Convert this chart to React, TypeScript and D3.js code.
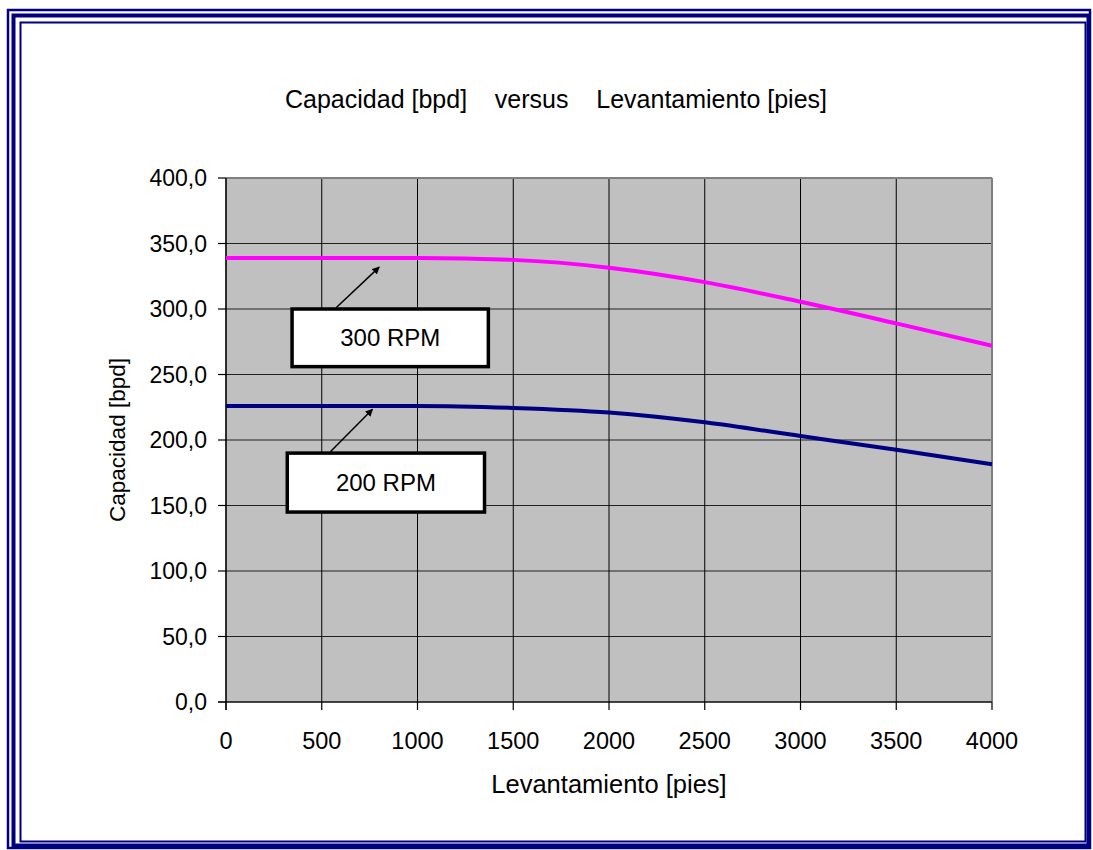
import React from "react";
import * as d3 from "d3";

// levantamiento [pies]
const levantamiento = [0, 500, 1000, 1500, 2000, 2500, 3000, 3500, 4000];
// capacidad [bpd]
const rpm300 = [339, 339, 339, 337.5, 331.5, 320.5, 305.5, 289, 272];
const rpm200 = [226, 226, 226, 224.5, 221, 213.5, 203, 192.5, 181.5];

const xTicks = [0, 500, 1000, 1500, 2000, 2500, 3000, 3500, 4000];
const yTicks = [0, 50, 100, 150, 200, 250, 300, 350, 400];

const W = 1093;
const H = 850;
const margin = { top: 178, right: 101, bottom: 148, left: 226 };
const FONT = "'Liberation Sans', Arial, sans-serif";

const fmt = (v: number) => v.toFixed(1).replace(".", ",");

export default function App() {
  const x = d3.scaleLinear().domain([0, 4000]).range([margin.left, W - margin.right]);
  const y = d3.scaleLinear().domain([0, 400]).range([H - margin.bottom, margin.top]);

  const line = d3
    .line<number>()
    .x((d, i) => x(levantamiento[i]))
    .y((d) => y(d))
    .curve(d3.curveMonotoneX);

  const [x0, x1] = x.range();
  const [y0, y1] = y.range();

  // callouts: box in data space, arrow tip on the curve
  const labels = [
    { text: "300 RPM", box: [345, 1370, 300, 256], tip: [800, 332], tail: [575, 301] },
    { text: "200 RPM", box: [320, 1350, 190, 145], tip: [765, 223.5], tail: [545, 191] },
  ];

  return (
    <svg width={W} height={H} style={{ position: "absolute", left: 0, top: 0, fontFamily: FONT }}>
      <defs>
        <marker id="arrow" viewBox="0 0 10 10" refX="9" refY="5" markerWidth="5" markerHeight="5" orient="auto">
          <path d="M0,0 L10,5 L0,10 z" fill="#000" />
        </marker>
      </defs>
      <rect width={W} height={H} fill="#fff" />

      {/* page border */}
      <rect x={8} y={10} width={1082} height={838} fill="none" stroke="#000080" strokeWidth={2.5} />
      <rect x={13.5} y={15.5} width={1075} height={830} fill="none" stroke="#000080" strokeWidth={4} />
      <rect x={20.5} y={22.5} width={1065} height={819} fill="none" stroke="#000080" strokeWidth={2} />

      <text x={556} y={108} textAnchor="middle" fontSize={25} fill="#000" style={{ whiteSpace: "pre" }}>
        {"Capacidad [bpd]    versus    Levantamiento [pies]"}
      </text>

      {/* plot area */}
      <rect x={x0} y={y1} width={x1 - x0} height={y0 - y1} fill="#c0c0c0" />

      {yTicks.map((t) => (
        <line key={"gy" + t} x1={x0} x2={x1} y1={y(t)} y2={y(t)} stroke="#222" strokeWidth={1.2} />
      ))}
      {xTicks.map((t) => (
        <line key={"gx" + t} x1={x(t)} x2={x(t)} y1={y1} y2={y0} stroke="#000" strokeWidth={1} />
      ))}
      <line x1={x0} x2={x1} y1={y1} y2={y1} stroke="#808080" strokeWidth={2} />
      <line x1={x1} x2={x1} y1={y1} y2={y0} stroke="#808080" strokeWidth={2} />

      {/* axes */}
      <line x1={x0} x2={x0} y1={y1} y2={y0 + 8} stroke="#000" strokeWidth={1.2} />
      <line x1={x0 - 8} x2={x1} y1={y0} y2={y0} stroke="#000" strokeWidth={1.2} />
      {yTicks.map((t) => (
        <g key={"yt" + t}>
          <line x1={x0 - 8} x2={x0} y1={y(t)} y2={y(t)} stroke="#000" strokeWidth={1.2} />
          <text x={x0 - 19} y={y(t)} dy="0.36em" textAnchor="end" fontSize={23}>
            {fmt(t)}
          </text>
        </g>
      ))}
      {xTicks.map((t) => (
        <g key={"xt" + t}>
          <line x1={x(t)} x2={x(t)} y1={y0} y2={y0 + 8} stroke="#000" strokeWidth={1.2} />
          <text x={x(t)} y={749} textAnchor="middle" fontSize={23.5}>
            {t}
          </text>
        </g>
      ))}

      <text x={(x0 + x1) / 2} y={793} textAnchor="middle" fontSize={25.5}>
        Levantamiento [pies]
      </text>
      <text transform={`translate(125,${(y0 + y1) / 2}) rotate(-90)`} textAnchor="middle" fontSize={22.5}>
        Capacidad [bpd]
      </text>

      {/* series */}
      <path d={line(rpm300) ?? ""} fill="none" stroke="#ff00ff" strokeWidth={4} />
      <path d={line(rpm200) ?? ""} fill="none" stroke="#000080" strokeWidth={4} />

      {labels.map((l) => {
        const [bx0, bx1, by0, by1] = l.box;
        return (
          <g key={l.text}>
            <line
              x1={x(l.tail[0])}
              y1={y(l.tail[1])}
              x2={x(l.tip[0])}
              y2={y(l.tip[1])}
              stroke="#000"
              strokeWidth={1.5}
              markerEnd="url(#arrow)"
            />
            <rect
              x={x(bx0)}
              y={y(by0)}
              width={x(bx1) - x(bx0)}
              height={y(by1) - y(by0)}
              fill="#fff"
              stroke="#000"
              strokeWidth={3.5}
            />
            <text x={(x(bx0) + x(bx1)) / 2} y={(y(by0) + y(by1)) / 2} dy="0.36em" textAnchor="middle" fontSize={24}>
              {l.text}
            </text>
          </g>
        );
      })}
    </svg>
  );
}
